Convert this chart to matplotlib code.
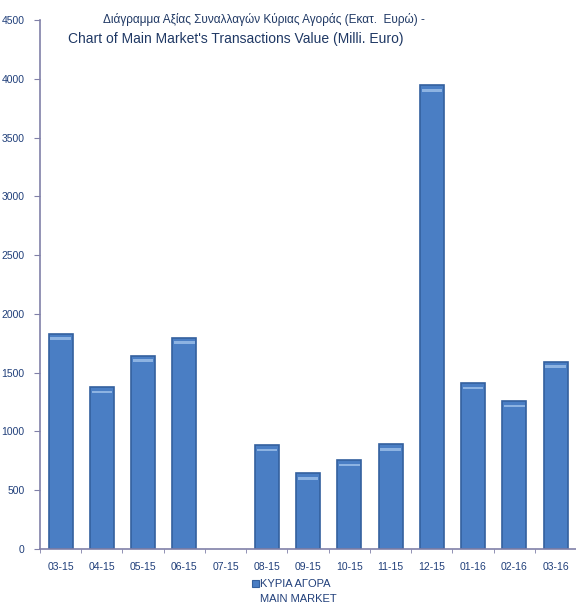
import matplotlib
matplotlib.use('Agg')
import matplotlib.pyplot as plt
import numpy as np

months = ['03-15', '04-15', '05-15', '06-15', '07-15', '08-15', '09-15',
          '10-15', '11-15', '12-15', '01-16', '02-16', '03-16']
values = [1830, 1378, 1642, 1797, 0, 885, 646, 757, 893, 3945, 1412, 1259, 1591]
yticks = [0, 500, 1000, 1500, 2000, 2500, 3000, 3500, 4000, 4500]

plt.rcParams['font.family'] = ['Liberation Sans Narrow', 'Liberation Sans', 'DejaVu Sans']
navy = '#1F3864'
lab_col = '#203F7A'
axis_col = '#8080A8'

fig = plt.figure(figsize=(5.76, 6.04), dpi=100)
ax = fig.add_axes([0.0694, 0.091, 0.931, 0.876])

x = np.arange(len(months))
edges = ['#34609E' if v > 0 else 'none' for v in values]
ax.bar(x, values, width=0.58, color='#4A7EC4', edgecolor=edges, linewidth=1.2)
# light strip near the top of each bar
tops = [v for v in values if v > 0]
xt = [i for i, v in zip(x, values) if v > 0]
ax.bar(xt, [25] * len(xt), bottom=[v - 55 for v in tops], width=0.5,
       color='#8DB3E2', linewidth=0)

ax.set_xlim(-0.5, len(months) - 0.5)
ax.set_ylim(0, 4500)
ax.set_yticks(yticks)
ax.set_yticklabels([str(t) for t in yticks], fontsize=7.5, color=lab_col)
ax.set_xticks(x)
ax.set_xticklabels(months, fontsize=7.5, color=lab_col)
ax.tick_params(axis='x', which='major', length=0, pad=9)
ax.set_xticks(np.arange(-0.5, len(months)), minor=True)
ax.tick_params(axis='x', which='minor', length=3, color=axis_col)
ax.tick_params(axis='y', length=4, color=axis_col, pad=7)

for s in ['top', 'right']:
    ax.spines[s].set_visible(False)
for s in ['left', 'bottom']:
    ax.spines[s].set_color(axis_col)
    ax.spines[s].set_linewidth(1.2)

fig.text(0.458, 0.968, 'Διάγραμμα Αξίας Συναλλαγών Κύριας Αγοράς (Εκατ.  Ευρώ) -',
         ha='center', va='center', fontsize=8.5, color=navy)
fig.text(0.118, 0.936, "Chart of Main Market's Transactions Value (Milli. Euro)",
         ha='left', va='center', fontsize=10, color=navy)

# legend
fig.patches.append(plt.Rectangle((0.438, 0.028), 0.011, 0.011, transform=fig.transFigure,
                                 facecolor='#4A7EC4', edgecolor='#34609E', lw=0.8))
fig.text(0.451, 0.033, 'ΚΥΡΙΑ ΑΓΟΡΑ', ha='left', va='center', fontsize=8,
         color=lab_col)
fig.text(0.451, 0.008, 'MAIN MARKET', ha='left', va='center', fontsize=8,
         color=lab_col)

fig.savefig('out.png', dpi=100)
